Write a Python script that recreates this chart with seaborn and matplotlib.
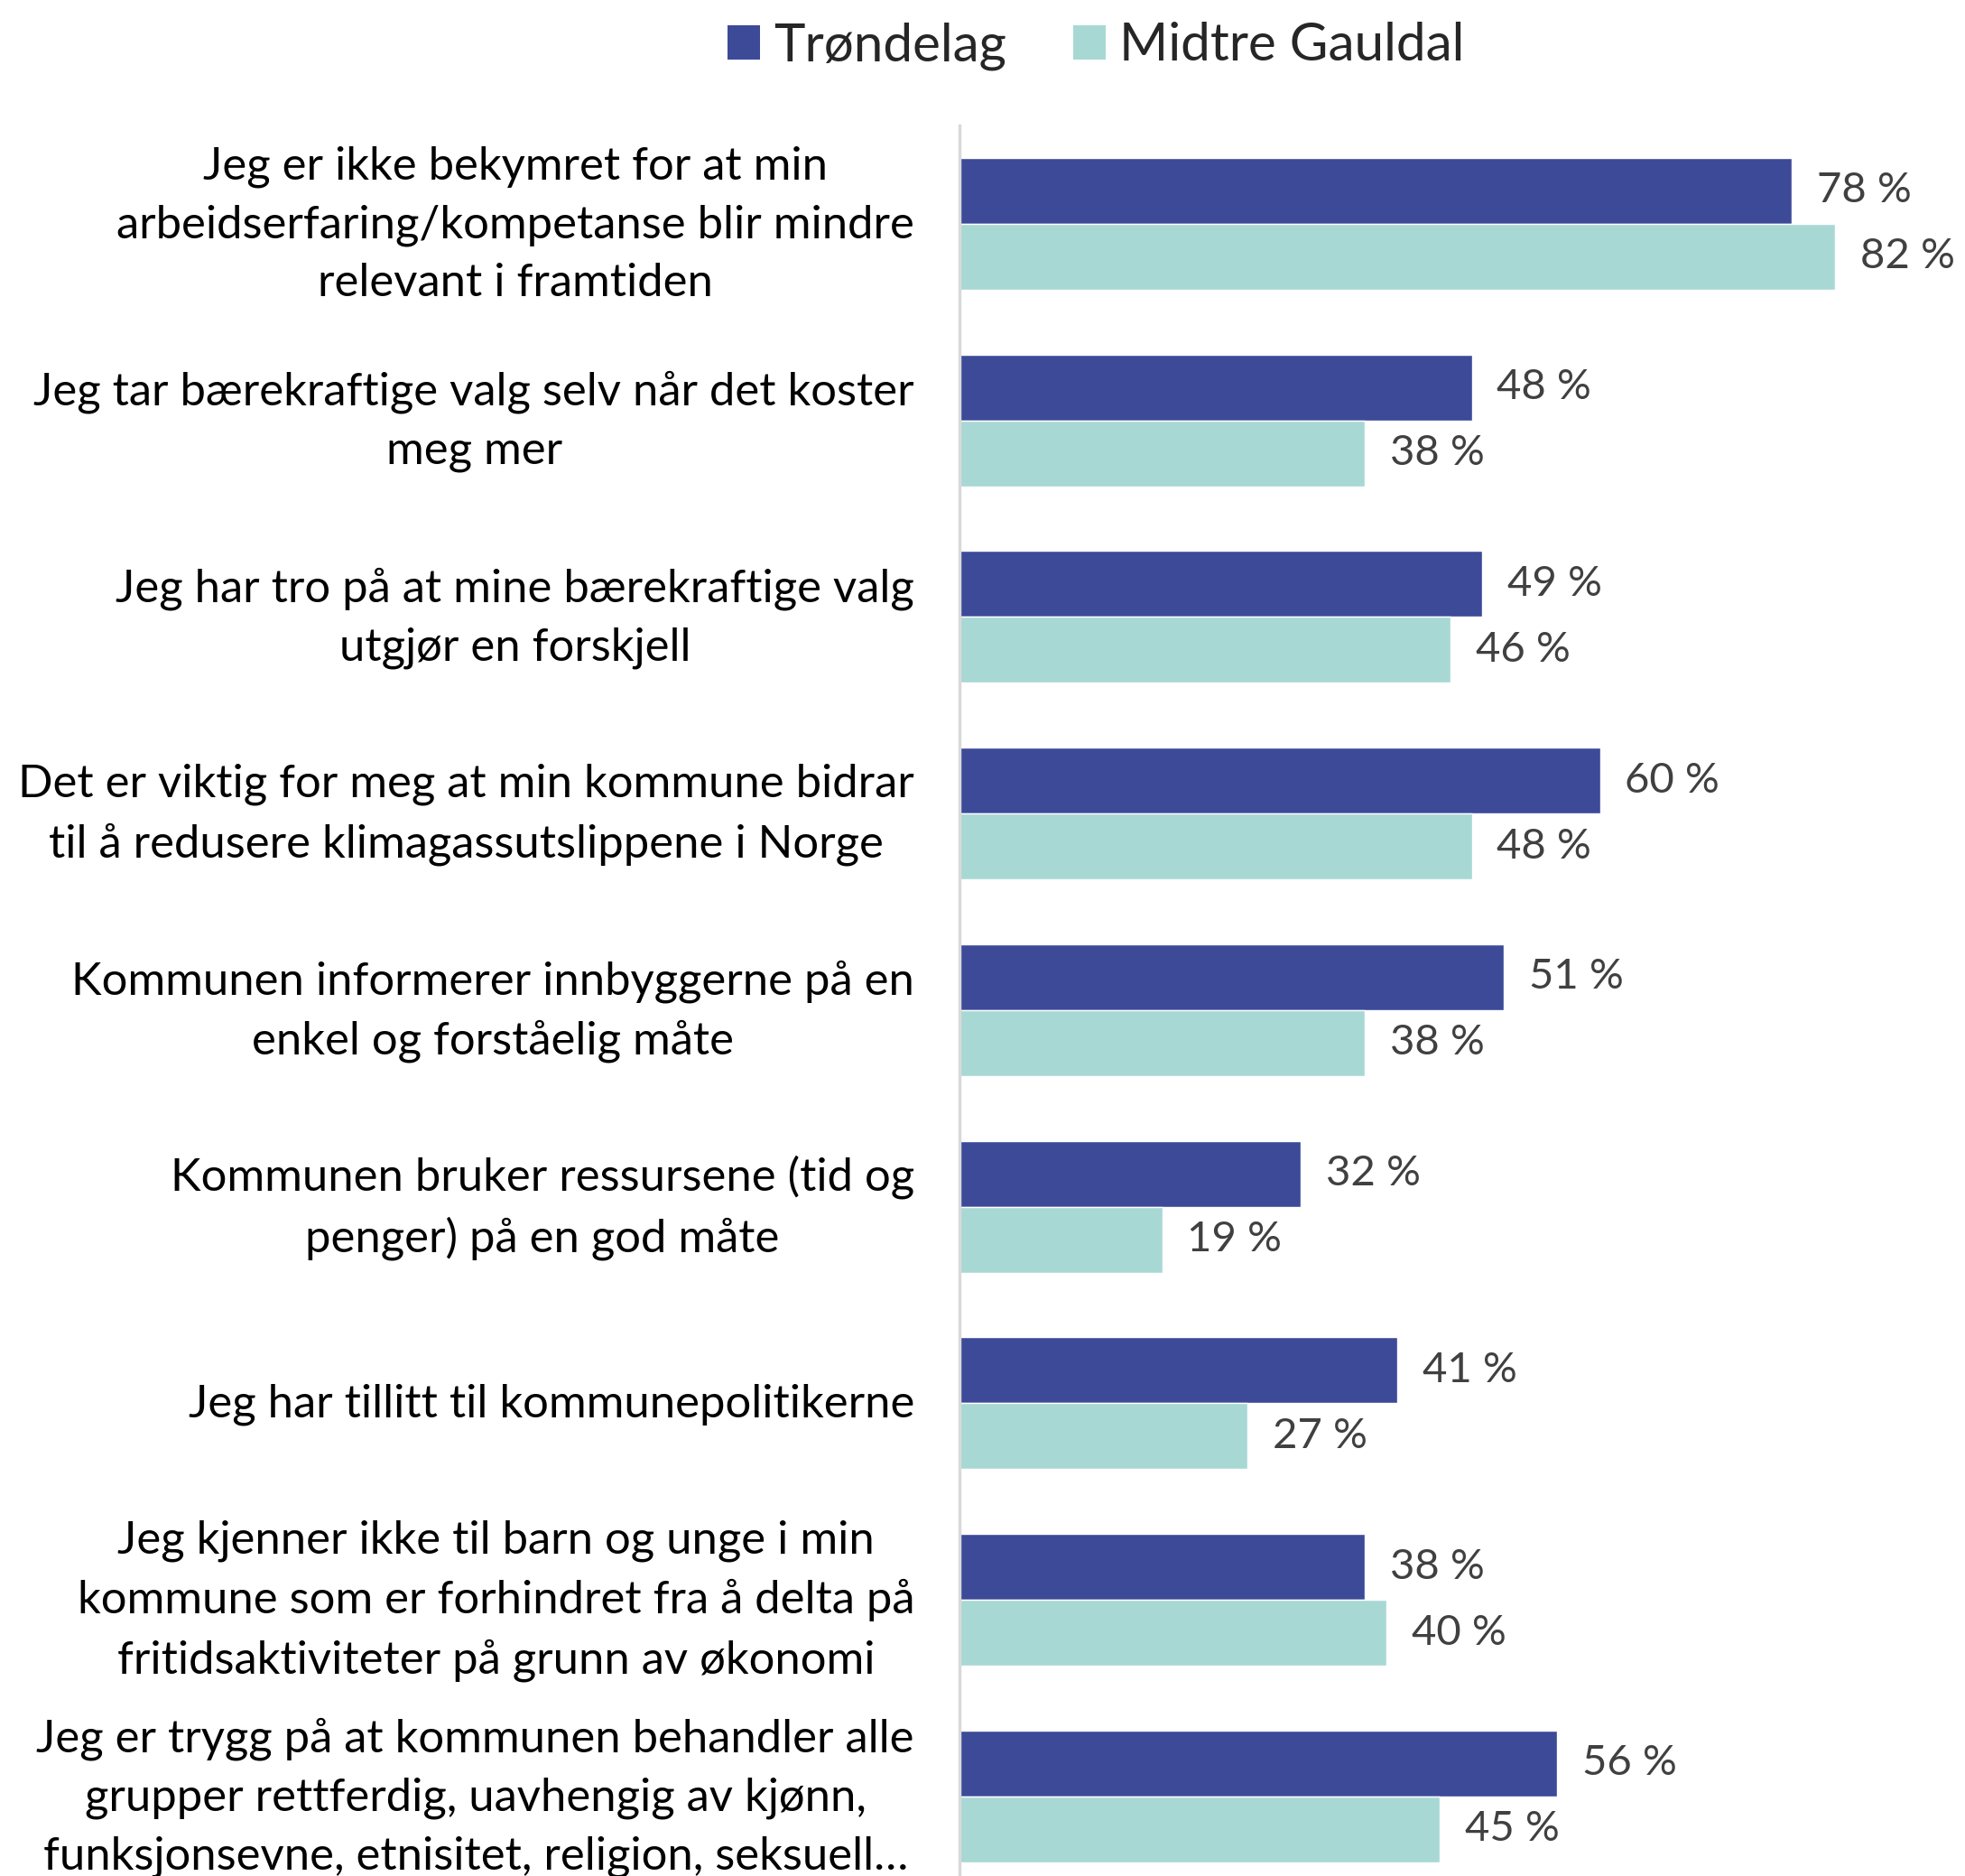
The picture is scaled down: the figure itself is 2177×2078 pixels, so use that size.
import matplotlib
matplotlib.use("Agg")
import matplotlib.pyplot as plt
import matplotlib.transforms as mtransforms
import seaborn as sns
import pandas as pd
from matplotlib.patches import Patch

categories = [
    "Jeg er ikke bekymret for at min\narbeidserfaring/kompetanse blir mindre\nrelevant i framtiden",
    "Jeg tar bærekraftige valg selv når det koster\nmeg mer",
    "Jeg har tro på at mine bærekraftige valg\nutgjør en forskjell",
    "Det er viktig for meg at min kommune bidrar\ntil å redusere klimagassutslippene i Norge",
    "Kommunen informerer innbyggerne på en\nenkel og forståelig måte",
    "Kommunen bruker ressursene (tid og\npenger) på en god måte",
    "Jeg har tillitt til kommunepolitikerne",
    "Jeg kjenner ikke til barn og unge i min\nkommune som er forhindret fra å delta på\nfritidsaktiviteter på grunn av økonomi",
    "Jeg er trygg på at kommunen behandler alle\ngrupper rettferdig, uavhengig av kjønn,\nfunksjonsevne, etnisitet, religion, seksuell…",
]
series_names = ["Trøndelag", "Midtre Gauldal"]
trondelag = [78, 48, 49, 60, 51, 32, 41, 38, 56]
midtre_gauldal = [82, 38, 46, 48, 38, 19, 27, 40, 45]
colors = ["#3C4A98", "#A8D8D4"]

df = pd.DataFrame({
    "Kategori": categories * 2,
    "Serie": [series_names[0]] * len(categories) + [series_names[1]] * len(categories),
    "Verdi": trondelag + midtre_gauldal,
})

sns.set_style("white")
plt.rcParams["font.family"] = ["Lato", "DejaVu Sans"]

fig = plt.figure(figsize=(21.77, 20.78), dpi=100)
ax = fig.add_axes([1063 / 2177, 0.0, 1 - 1063 / 2177, 1 - 139 / 2078])

sns.barplot(data=df, y="Kategori", x="Verdi", hue="Serie", orient="h",
            palette=colors, width=0.67, ax=ax, legend=False, saturation=1,
            order=categories, hue_order=series_names)

for cont in ax.containers:
    vals = [b.get_width() for b in cont]
    ax.bar_label(cont, labels=[f"{v:.0f} %" for v in vals], padding=20,
                 fontsize=34, color="#404040")

ax.set_xlim(0, 94.2)
ax.set_ylim(8.405, -0.5)
ax.set_xlabel("")
ax.set_ylabel("")
ax.set_xticks([])
for s in ["top", "right", "bottom"]:
    ax.spines[s].set_visible(False)
ax.spines["left"].set_color("#D9D9D9")
ax.spines["left"].set_linewidth(2.5)
ax.set_yticks(range(len(categories)))
ax.set_yticklabels([])
ax.tick_params(axis="y", length=0)

# category labels, centered on each category
shift = mtransforms.ScaledTranslation(-36 / 72, -1 / 72, fig.dpi_scale_trans)
trans = mtransforms.blended_transform_factory(ax.transAxes, ax.transData) + shift
for i, cat in enumerate(categories):
    ax.text(0, i, cat, transform=trans, ha="right", va="center",
            multialignment="center", linespacing=1.5, fontsize=36.5, color="black")

handles = [Patch(facecolor=c, edgecolor="none") for c in colors]
fig.legend(handles, series_names, loc="center", bbox_to_anchor=(1214 / 2177, 1 - 51 / 2078),
           ncol=2, frameon=False, fontsize=42, handlelength=0.62, handleheight=0.62,
           handletextpad=0.26, columnspacing=1.26)

fig.savefig("out.png", dpi=100)
